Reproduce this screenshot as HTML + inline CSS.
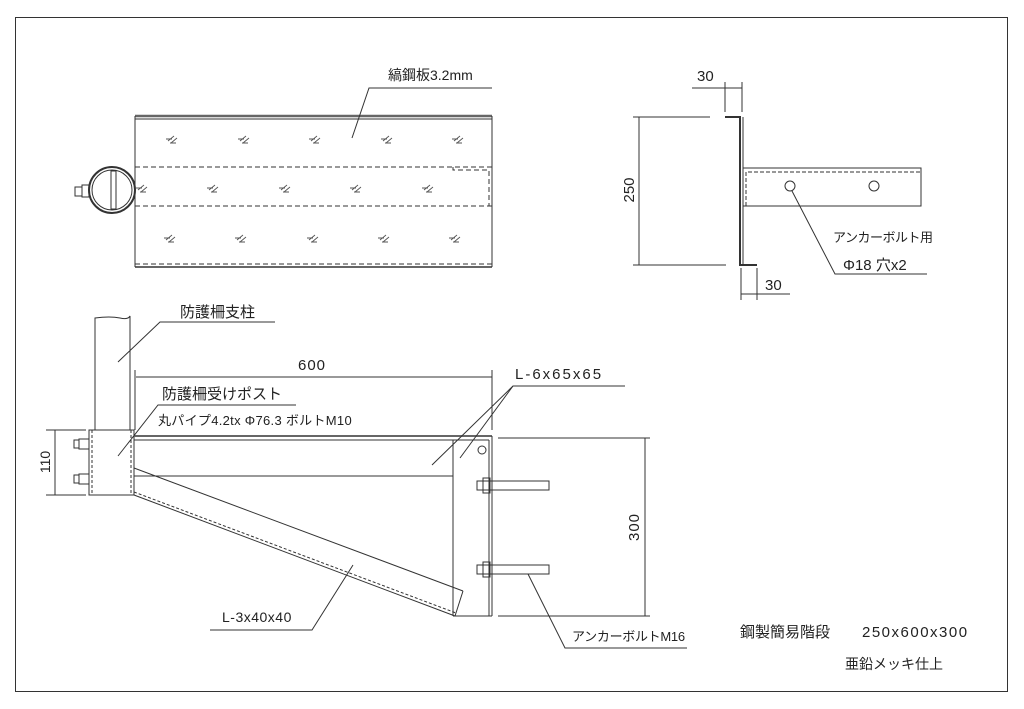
<!DOCTYPE html>
<html><head><meta charset="utf-8"><style>
html,body{margin:0;padding:0;background:#fff}
svg{display:block}
text{font-family:"Liberation Sans","Noto Sans CJK JP",sans-serif;fill:#222}
</style></head><body>
<svg width="1024" height="709" viewBox="0 0 1024 709" xmlns="http://www.w3.org/2000/svg">
<defs>
<path id="h" d="M0,0 l6,-5 M-2,-2 l6,0 M2,2 l6,0 M3,2 l6,-5"/>
</defs>
<g fill="none" stroke="#333" stroke-width="1">
<rect x="15.5" y="17.5" width="992" height="674"/>
<line x1="135" y1="116" x2="492" y2="116" stroke-width="2.5" stroke="#666"/>
<line x1="135" y1="119" x2="492" y2="119"/>
<line x1="135" y1="116" x2="135" y2="267"/>
<line x1="492" y1="116" x2="492" y2="267"/>
<line x1="135" y1="267" x2="492" y2="267" stroke-width="1.5"/>
<g stroke-dasharray="5,3">
<line x1="135" y1="167" x2="492" y2="167"/>
<line x1="135" y1="206" x2="492" y2="206"/>
<line x1="135" y1="264" x2="492" y2="264"/>
<polyline points="453,167 453,170 489,170 489,206"/>
</g>
<circle cx="112" cy="190" r="23" stroke-width="2"/>
<circle cx="112" cy="190" r="20"/>
<rect x="111" y="171" width="5" height="38"/>
<rect x="82" y="185" width="7" height="12"/>
<rect x="75" y="187" width="7" height="9"/>
<g stroke="#555" stroke-width="0.9">
<use href="#h" x="168" y="141"/><use href="#h" x="240" y="141"/><use href="#h" x="311" y="141"/><use href="#h" x="383" y="141"/><use href="#h" x="454" y="141"/>
<use href="#h" x="138" y="190"/><use href="#h" x="209" y="190"/><use href="#h" x="281" y="190"/><use href="#h" x="352" y="190"/><use href="#h" x="424" y="190"/>
<use href="#h" x="166" y="240"/><use href="#h" x="237" y="240"/><use href="#h" x="309" y="240"/><use href="#h" x="380" y="240"/><use href="#h" x="451" y="240"/>
</g>
<polyline points="352,138 369,88 492,88"/>
<polyline points="725,117 740,117 740,265 757,265" stroke-width="2"/>
<line x1="743" y1="117" x2="743" y2="265"/>
<line x1="639" y1="117" x2="639" y2="265"/>
<line x1="633" y1="117" x2="710" y2="117"/>
<line x1="633" y1="265" x2="726" y2="265"/>
<line x1="725" y1="82" x2="725" y2="112"/>
<line x1="742" y1="82" x2="742" y2="112"/>
<line x1="692" y1="88" x2="742" y2="88"/>
<line x1="741" y1="268" x2="741" y2="300"/>
<line x1="757" y1="268" x2="757" y2="300"/>
<line x1="741" y1="294" x2="790" y2="294"/>
<rect x="743" y="168" width="178" height="38"/>
<polyline points="746,206 746,172 921,172" stroke-dasharray="4,2"/>
<circle cx="790" cy="186" r="5"/>
<circle cx="874" cy="186" r="5"/>
<polyline points="792,191 835,274 927,274"/>
<path d="M95,430 L95,318 Q110,316 120,318 Q128,320 130,316 L130,430"/>
<rect x="89" y="430" width="45" height="65"/>
<line x1="92" y1="430" x2="92" y2="495" stroke-dasharray="3,2"/>
<line x1="131" y1="430" x2="131" y2="495" stroke-dasharray="3,2"/>
<rect x="79" y="439" width="10" height="10"/><rect x="74" y="440" width="5" height="8"/>
<rect x="79" y="474" width="10" height="10"/><rect x="74" y="475" width="5" height="8"/>
<line x1="55" y1="430" x2="55" y2="495"/>
<line x1="46" y1="430" x2="86" y2="430"/>
<line x1="46" y1="495" x2="86" y2="495"/>
<line x1="134" y1="436" x2="492" y2="436" stroke-width="2" stroke="#666"/>
<line x1="134" y1="440" x2="489" y2="440"/>
<line x1="134" y1="476" x2="453" y2="476"/>
<line x1="453" y1="440" x2="453" y2="616"/>
<line x1="489" y1="440" x2="489" y2="616"/>
<line x1="492" y1="436" x2="492" y2="616"/>
<line x1="453" y1="616" x2="492" y2="616"/>
<circle cx="482" cy="450" r="4"/>
<line x1="134" y1="468" x2="463" y2="591"/>
<line x1="134" y1="495" x2="455" y2="616"/>
<line x1="134" y1="492" x2="456" y2="613" stroke-dasharray="3,2"/>
<line x1="463" y1="591" x2="455" y2="616"/>
<rect x="477" y="481" width="72" height="9"/>
<rect x="483" y="478" width="7" height="15"/>
<rect x="477" y="565" width="72" height="9"/>
<rect x="483" y="562" width="7" height="15"/>
<line x1="136" y1="377" x2="492" y2="377"/>
<line x1="135" y1="370" x2="135" y2="430"/>
<line x1="492" y1="370" x2="492" y2="430"/>
<line x1="645" y1="438" x2="645" y2="616"/>
<line x1="498" y1="438" x2="650" y2="438"/>
<line x1="498" y1="616" x2="650" y2="616"/>
<polyline points="118,362 160,322 275,322"/>
<polyline points="118,456 158,405 296,405"/>
<polyline points="432,465 513,386 625,386"/>
<line x1="460" y1="458" x2="513" y2="386"/>
<polyline points="353,565 312,630 210,630"/>
<polyline points="528,574 565,648 687,648"/>
</g>
<text x="388" y="80" font-size="14">縞鋼板3.2mm</text>
<text x="697" y="81" font-size="15">30</text>
<text x="765" y="290" font-size="15">30</text>
<text transform="translate(634,190) rotate(-90)" font-size="15" text-anchor="middle">250</text>
<text x="833" y="242" font-size="13" letter-spacing="-0.5">アンカーボルト用</text>
<text x="843" y="270" font-size="15">Φ18 穴x2</text>
<text x="180" y="317" font-size="15">防護柵支柱</text>
<text x="298" y="370" font-size="15" letter-spacing="1">600</text>
<text x="162" y="399" font-size="15">防護柵受けポスト</text>
<text x="158" y="425" font-size="13" letter-spacing="0.3">丸パイプ4.2tx Φ76.3  ボルトM10</text>
<text x="515" y="379" font-size="15" letter-spacing="2">L-6x65x65</text>
<text transform="translate(50,462) rotate(-90)" font-size="14" text-anchor="middle">110</text>
<text transform="translate(639,527) rotate(-90)" font-size="15" text-anchor="middle" letter-spacing="1">300</text>
<text x="222" y="622" font-size="14" letter-spacing="0.5">L-3x40x40</text>
<text x="572" y="641" font-size="13" letter-spacing="-0.3">アンカーボルトM16</text>
<text x="740" y="637" font-size="15">鋼製簡易階段</text>
<text x="862" y="637" font-size="15" letter-spacing="1.5">250x600x300</text>
<text x="845" y="669" font-size="14">亜鉛メッキ仕上</text>
</svg>
</body></html>
